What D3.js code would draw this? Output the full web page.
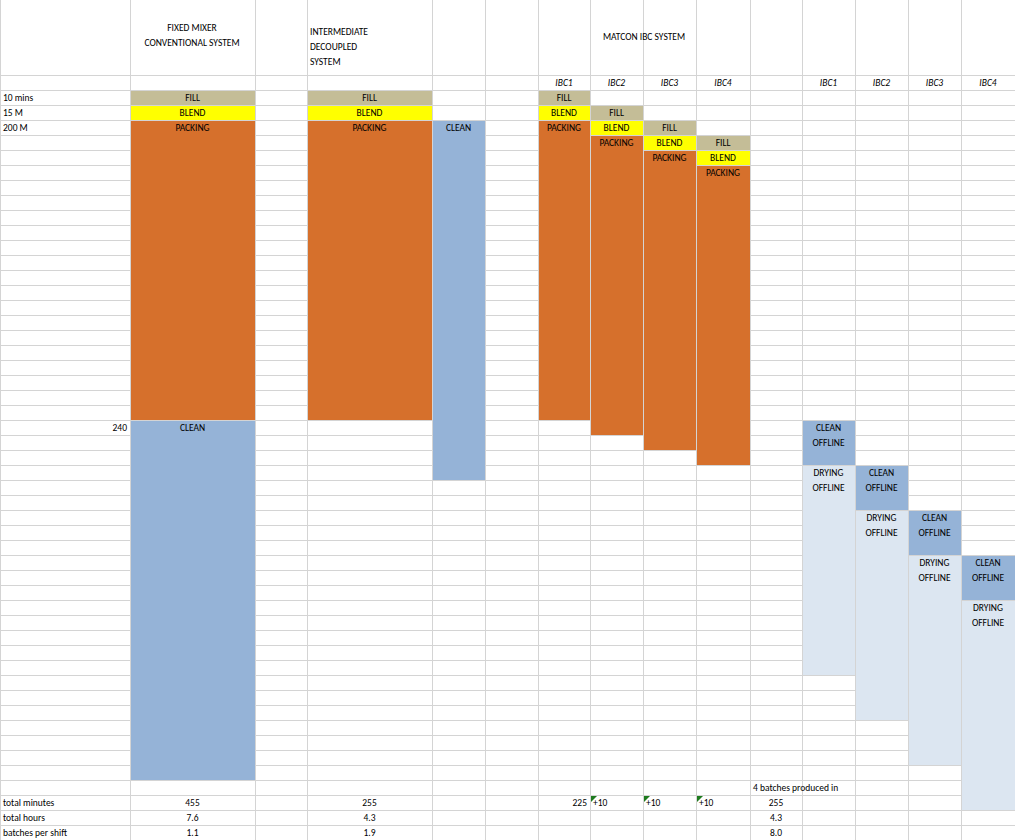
<!DOCTYPE html>
<html><head><meta charset="utf-8">
<script src="https://cdn.jsdelivr.net/npm/d3@7"></script>
<style>body{margin:0;background:#fff}text{font-family:Calibri,Carlito,"Liberation Sans",sans-serif;font-size:9.5px;fill:#000}</style>
</head><body><div id="chart"></div>
<script>
// column edges (spreadsheet columns)
const colEdges = [0, 130, 255, 307, 432, 485, 538, 590, 643, 696, 750, 802, 855, 908, 961, 1015];
const rowCount = 50;
const ibcLabels = ['IBC1', 'IBC2', 'IBC3', 'IBC4'];
const rowLabels = [[0, '10 mins'], [1, '15 M'], [2, '200 M'], [47, 'total minutes'], [48, 'total hours'], [49, 'batches per shift']];

// blocks: column index, first row, last row, kind, label
const blocks = [
  [1, 0, 0, 'fill', 'FILL'], [1, 1, 1, 'blend', 'BLEND'], [1, 2, 21, 'pack', 'PACKING'], [1, 22, 45, 'clean', 'CLEAN'],
  [3, 0, 0, 'fill', 'FILL'], [3, 1, 1, 'blend', 'BLEND'], [3, 2, 21, 'pack', 'PACKING'], [4, 2, 25, 'clean', 'CLEAN'],
  [6, 0, 0, 'fill', 'FILL'], [6, 1, 1, 'blend', 'BLEND'], [6, 2, 21, 'pack', 'PACKING'],
  [7, 1, 1, 'fill', 'FILL'], [7, 2, 2, 'blend', 'BLEND'], [7, 3, 22, 'pack', 'PACKING'],
  [8, 2, 2, 'fill', 'FILL'], [8, 3, 3, 'blend', 'BLEND'], [8, 4, 23, 'pack', 'PACKING'],
  [9, 3, 3, 'fill', 'FILL'], [9, 4, 4, 'blend', 'BLEND'], [9, 5, 24, 'pack', 'PACKING'],
  [11, 22, 24, 'clean', 'CLEAN|OFFLINE'], [11, 25, 38, 'dry', 'DRYING|OFFLINE'],
  [12, 25, 27, 'clean', 'CLEAN|OFFLINE'], [12, 28, 41, 'dry', 'DRYING|OFFLINE'],
  [13, 28, 30, 'clean', 'CLEAN|OFFLINE'], [13, 31, 44, 'dry', 'DRYING|OFFLINE'],
  [14, 31, 33, 'clean', 'CLEAN|OFFLINE'], [14, 34, 47, 'dry', 'DRYING|OFFLINE']
];
// values: column, row, text, align
const cellValues = [
  [0, 22, '240', 'end'],
  [1, 47, '455', 'middle'], [1, 48, '7.6', 'middle'], [1, 49, '1.1', 'middle'],
  [3, 47, '255', 'middle'], [3, 48, '4.3', 'middle'], [3, 49, '1.9', 'middle'],
  [6, 47, '225', 'end'], [7, 47, '+10', 'start'], [8, 47, '+10', 'start'], [9, 47, '+10', 'start'],
  [10, 46, '4 batches produced in', 'start'],
  [10, 47, '255', 'middle'], [10, 48, '4.3', 'middle'], [10, 49, '8.0', 'middle']
];
const kindColor = {fill: '#c4bd97', blend: '#ffff00', pack: '#d6702c', clean: '#95b3d7', dry: '#dce6f1'};

const W = 1015, H = 840;
const y = d3.scaleLinear().domain([0, rowCount]).range([90, 840]);
const svg = d3.select('#chart').append('svg').attr('width', W).attr('height', H);

// grid
svg.selectAll('.v').data(colEdges).enter().append('line')
  .attr('x1', d => d + 0.5).attr('x2', d => d + 0.5).attr('y1', 0).attr('y2', H)
  .attr('stroke', '#d4d4d4');
svg.selectAll('.h').data(d3.range(rowCount + 1)).enter().append('line')
  .attr('x1', 0).attr('x2', W).attr('y1', d => y(d) + 0.5).attr('y2', d => y(d) + 0.5)
  .attr('stroke', '#d4d4d4');
svg.append('line').attr('x1', 0).attr('x2', W).attr('y1', 75.5).attr('y2', 75.5).attr('stroke', '#d4d4d4');

// blocks
const g = svg.selectAll('.blk').data(blocks).enter().append('g');
g.append('rect')
  .attr('x', d => colEdges[d[0]] + 1).attr('y', d => y(d[1]) + 1)
  .attr('width', d => colEdges[d[0] + 1] - colEdges[d[0]] - 1)
  .attr('height', d => y(d[2] + 1) - y(d[1]) - 1)
  .attr('fill', d => kindColor[d[3]]);
g.each(function(d) {
  const cx = (colEdges[d[0]] + colEdges[d[0] + 1]) / 2;
  d[4].split('|').forEach((t, i) => {
    d3.select(this).append('text').attr('x', cx).attr('y', y(d[1]) + 11 + i * 15)
      .attr('text-anchor', 'middle').text(t);
  });
});

// headers
function header(x, lines, anchor) {
  lines.forEach((t, i) => svg.append('text').attr('x', x).attr('y', 31 + i * 15 + (lines.length === 3 ? 4 : 0))
    .attr('text-anchor', anchor).text(t));
}
header(192, ['FIXED MIXER', 'CONVENTIONAL SYSTEM'], 'middle');
header(310, ['INTERMEDIATE', 'DECOUPLED', 'SYSTEM'], 'start');
svg.append('text').attr('x', 644).attr('y', 40).attr('text-anchor', 'middle').text('MATCON IBC SYSTEM');
[6, 11].forEach(start => ibcLabels.forEach((t, i) => {
  svg.append('text').attr('x', (colEdges[start + i] + colEdges[start + i + 1]) / 2).attr('y', 86)
    .attr('text-anchor', 'middle').attr('font-style', 'italic').text(t);
}));
rowLabels.forEach(([r, t]) => svg.append('text').attr('x', 3).attr('y', y(r) + 11).text(t));

// cell values
cellValues.forEach(([c, r, t, a]) => {
  const x = a === 'middle' ? (colEdges[c] + colEdges[c + 1]) / 2 : a === 'end' ? colEdges[c + 1] - 3 : colEdges[c] + 3;
  svg.append('text').attr('x', x).attr('y', y(r) + 11).attr('text-anchor', a).text(t);
  if (t === '+10') svg.append('path')
    .attr('d', `M${colEdges[c] + 1},${y(r) + 1}h6l-6,6z`).attr('fill', '#1e7b1e');
});
</script></body></html>
